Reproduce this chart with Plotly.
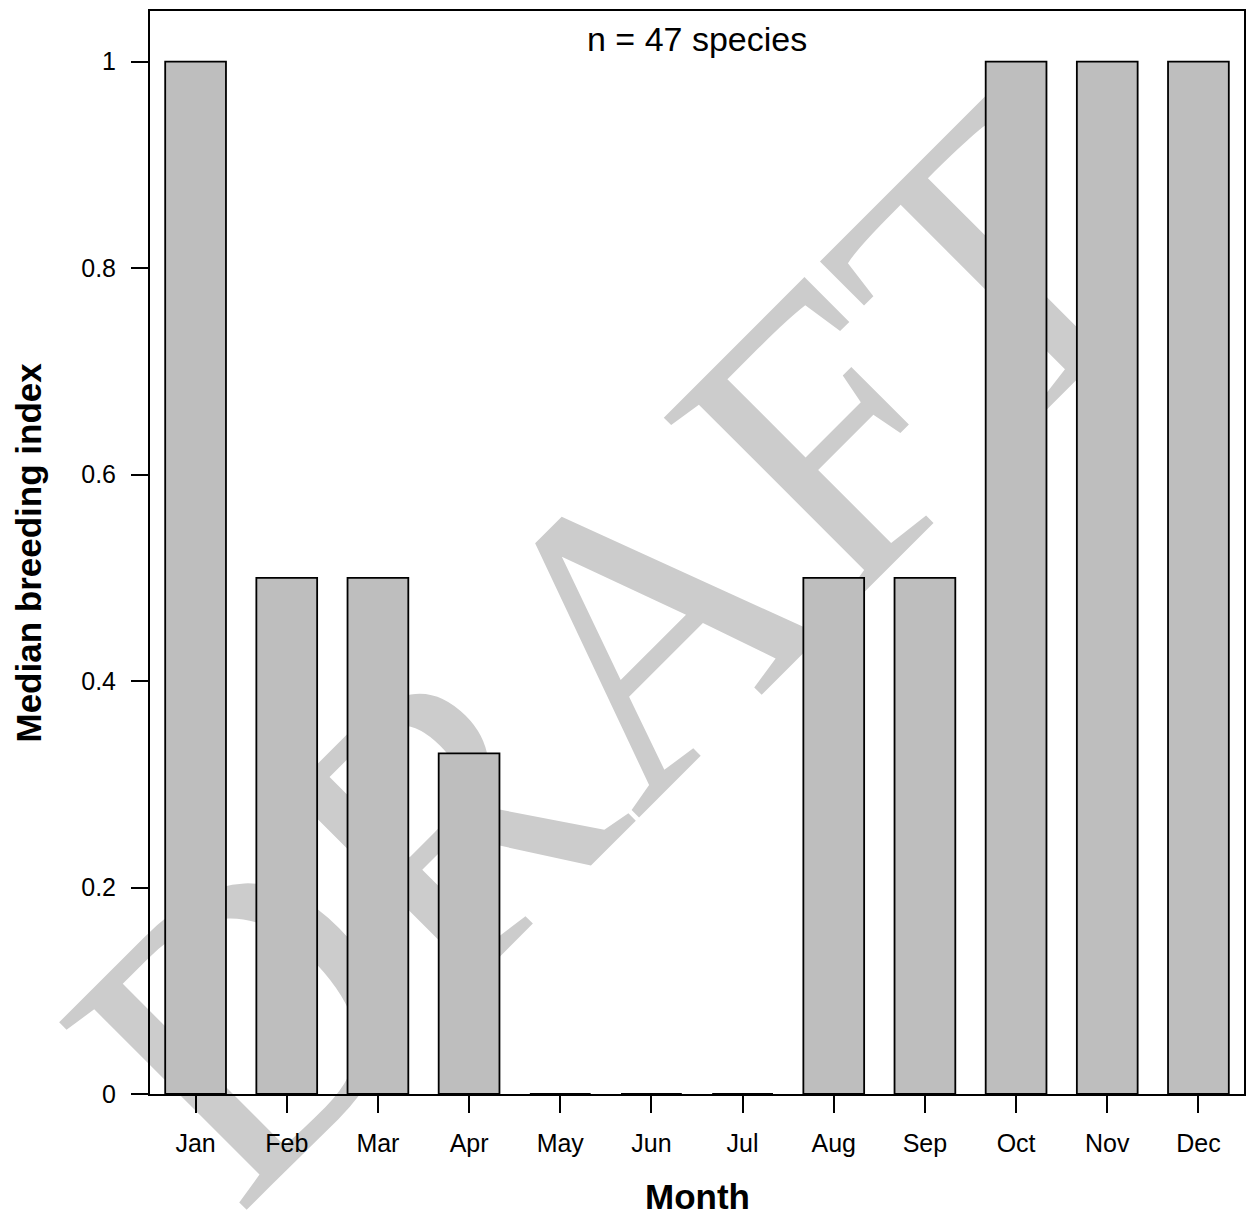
import plotly.graph_objects as go

months = ["Jan", "Feb", "Mar", "Apr", "May", "Jun", "Jul", "Aug", "Sep", "Oct", "Nov", "Dec"]
median_index = [1.0, 0.5, 0.5, 0.33, 0.0, 0.0, 0.0, 0.5, 0.5, 1.0, 1.0, 1.0]
y_ticks = [0, 0.2, 0.4, 0.6, 0.8, 1.0]
y_tick_labels = ["0", "0.2", "0.4", "0.6", "0.8", "1"]
note_text = "n = 47 species"
watermark_text = "DRAFT"

positions = list(range(len(months)))

fig = go.Figure()

# watermark (drawn first, so the bars cover it)
wm_x, wm_y = 4.56, 0.428
fig.add_trace(go.Bar(
    x=[wm_x], y=[0.002], base=[wm_y - 0.001], width=[0.002],
    marker=dict(color="rgba(0,0,0,0)", line=dict(width=0)),
    text=[watermark_text], textposition="inside", insidetextanchor="middle",
    constraintext="none", textangle=-45,
    textfont=dict(family="Liberation Serif", size=405, color="#CCCCCC"),
    cliponaxis=False, hoverinfo="skip", showlegend=False,
))

fig.add_trace(go.Bar(
    x=positions, y=median_index, width=[2 / 3] * len(months),
    marker=dict(color="#BEBEBE", line=dict(color="black", width=1.8)),
    hoverinfo="skip", showlegend=False,
))

font_family = "Liberation Sans, Arial, sans-serif"

fig.update_layout(
    width=1247, height=1216,
    margin=dict(l=150, r=1, t=11, b=122),
    paper_bgcolor="white", plot_bgcolor="white",
    barmode="overlay",
    font=dict(family=font_family, color="black"),
    xaxis=dict(
        range=[-0.5, 11.5], tickmode="array", tickvals=positions, ticktext=months,
        showline=True, linecolor="black", linewidth=2, mirror=True,
        ticks="outside", ticklen=17, tickwidth=2, tickcolor="black",
        tickfont=dict(size=25, family=font_family), ticklabelstandoff=9,
        showgrid=False, zeroline=False,
    ),
    yaxis=dict(
        range=[0, 1.049], tickmode="array", tickvals=y_ticks, ticktext=y_tick_labels,
        showline=True, linecolor="black", linewidth=2, mirror=True,
        ticks="outside", ticklen=17, tickwidth=2, tickcolor="black",
        tickfont=dict(size=25, family=font_family), ticklabelstandoff=10,
        showgrid=False, zeroline=False,
    ),
    annotations=[
        dict(text="<b>Month</b>", x=0.5, y=0, xref="paper", yref="paper",
             xanchor="center", yanchor="middle", yshift=-102, showarrow=False,
             font=dict(size=35, family=font_family)),
        dict(text="<b>Median breeding index</b>", x=0, y=0.5, xref="paper", yref="paper",
             xanchor="center", yanchor="middle", xshift=-122, textangle=-90, showarrow=False,
             font=dict(size=35, family=font_family)),
        dict(text=note_text, x=0.5, y=1, xref="paper", yref="paper",
             xanchor="center", yanchor="middle", yshift=-28, showarrow=False,
             font=dict(size=34, family=font_family)),
    ],
)

fig.write_html(
    "out.html",
    config={"displayModeBar": False},
    post_script="document.body.style.margin='0';document.body.style.overflow='hidden';",
)
